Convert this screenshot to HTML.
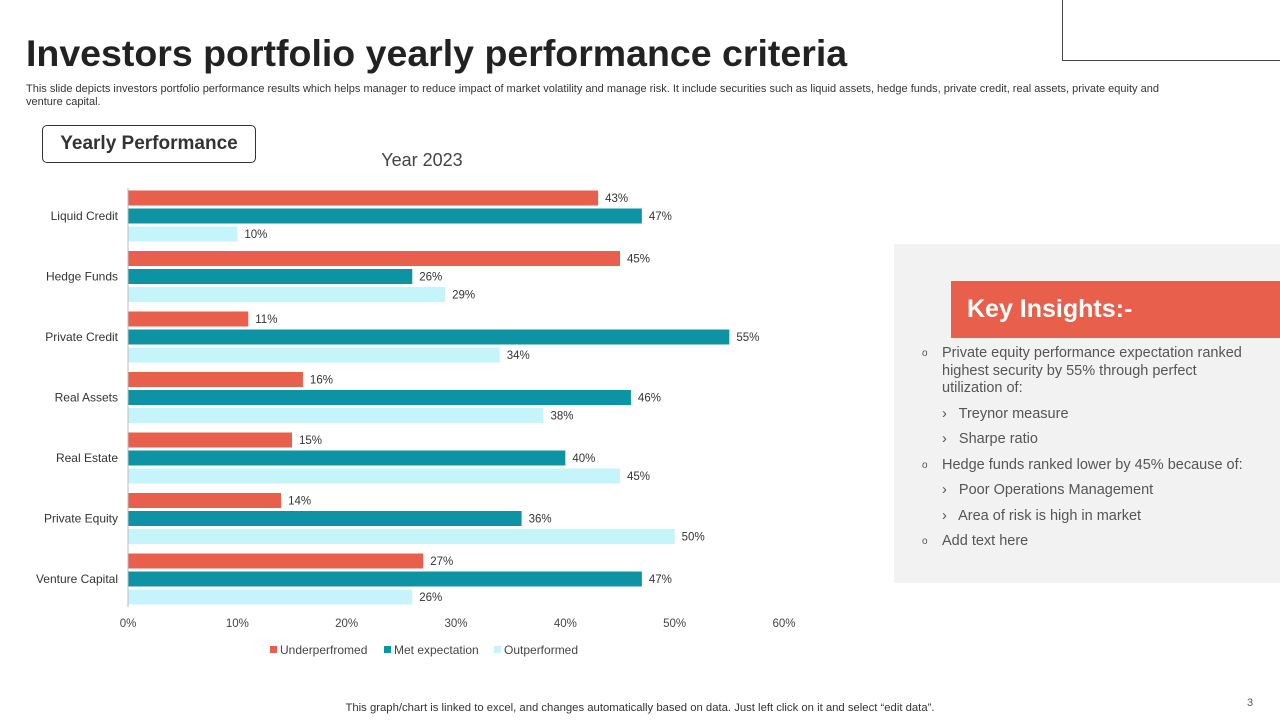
<!DOCTYPE html>
<html><head><meta charset="utf-8"><style>
body{margin:0;width:1280px;height:720px;background:#fff;position:relative;overflow:hidden;font-family:"Liberation Sans",sans-serif;}
.abs{position:absolute;}
</style></head><body>
<div class="abs" style="left:1062px;top:-1px;width:220px;height:62px;border:1px solid #444;box-sizing:border-box;border-top:none;border-right:none"></div>
<div class="abs" style="left:26px;top:32px;font-size:37.5px;font-weight:bold;color:#222">Investors portfolio yearly performance criteria</div>
<div class="abs" style="left:26px;top:83px;width:1165px;font-size:11px;line-height:13px;color:#333">This slide depicts investors portfolio performance results which helps manager to reduce impact of market volatility and manage risk. It include securities such as liquid assets, hedge funds, private credit, real assets, private equity and venture capital.</div>
<div class="abs" style="left:42px;top:125px;width:212px;height:36px;border:1px solid #333;border-radius:5px;font-size:19px;font-weight:bold;color:#333;text-align:center;line-height:36px">Yearly Performance</div>
<svg class="abs" style="left:0;top:0" width="1280" height="720" id="chart"></svg>
<div class="abs" style="left:894px;top:244px;width:386px;height:339px;background:#f2f2f2"></div>
<div class="abs" style="left:951px;top:281px;width:329px;height:57px;background:#e8604c;color:#fff;font-size:25px;font-weight:bold;line-height:57px;padding-left:16px;box-sizing:border-box">Key Insights:-</div>
<div class="abs" style="left:922px;top:345px;width:325px;font-size:14.5px;color:#555;line-height:17.5px">
<div style="position:relative;padding-left:20px"><span style="position:absolute;left:0;font-size:10px">o</span>Private equity performance expectation ranked highest security by 55% through perfect utilization of:</div>
<div style="padding-left:20px;margin-top:8px">›&nbsp;&nbsp; Treynor measure</div>
<div style="padding-left:20px;margin-top:8px">›&nbsp;&nbsp; Sharpe ratio</div>
<div style="position:relative;padding-left:20px;margin-top:8px"><span style="position:absolute;left:0;font-size:10px">o</span>Hedge funds ranked lower by 45% because of:</div>
<div style="padding-left:20px;margin-top:8px">›&nbsp;&nbsp; Poor Operations Management</div>
<div style="padding-left:20px;margin-top:8px">›&nbsp;&nbsp; Area of risk is high in market</div>
<div style="position:relative;padding-left:20px;margin-top:8px"><span style="position:absolute;left:0;font-size:10px">o</span>Add text here</div>
</div>
<div class="abs" style="left:0;width:1280px;top:702px;text-align:center;font-size:11.3px;color:#333">This graph/chart is linked to excel, and changes automatically based on data. Just left click on it and select “edit data”.</div>
<div class="abs" style="left:1247px;top:697px;font-size:11px;color:#555">3</div>
<script>
const categories=["Liquid Credit","Hedge Funds","Private Credit","Real Assets","Real Estate","Private Equity","Venture Capital"];
const underperformed=[43,45,11,16,15,14,27];
const metExpectation=[47,26,55,46,40,36,47];
const outperformed=[10,29,34,38,45,50,26];
const ticks=[0,10,20,30,40,50,60];
const seriesNames=["Underperfromed","Met expectation","Outperformed"];
const colors=["#e8604c","#0e93a4","#c5f4fa"];
const svg=document.getElementById('chart');const NS='http://www.w3.org/2000/svg';
const x=v=>128+v*656/60;
const gy=i=>198+i*60.5;
function mk(t,a,txt){const e=document.createElementNS(NS,t);for(const k in a)e.setAttribute(k,a[k]);if(txt!==undefined)e.textContent=txt;svg.appendChild(e);return e;}
let t=mk('text',{x:422,y:166,'font-size':18,fill:'#444','text-anchor':'middle','font-family':'Liberation Sans'},'Year 2023');


const series=[underperformed,metExpectation,outperformed];
categories.forEach((c,i)=>{
 let l=mk('text',{x:118,y:gy(i)+22,'font-size':12,fill:'#333','text-anchor':'end','font-family':'Liberation Sans'},c);
 
 
 series.forEach((s,j)=>{
  const cy=gy(i)+j*18;
  let r=mk('rect',{x:x(0),y:cy-7.5,width:x(s[i])-x(0),height:15,fill:colors[j]});
  
  
  let v=mk('text',{x:x(s[i])+7,y:cy+4,'font-size':11.5,fill:'#333','font-family':'Liberation Sans'},s[i]+'%');
  
  
 });
});
let ax=mk('line',{x1:128,y1:188,x2:128,y2:607,stroke:'#bbb'});


ticks.forEach(tv=>{
 let k=mk('text',{x:x(tv),y:627,'font-size':11.5,fill:'#444','text-anchor':'middle','font-family':'Liberation Sans'},tv+'%');
 
 
});
const lx=[270,384,494];
seriesNames.forEach((n,j)=>{
 let r=mk('rect',{x:lx[j],y:646,width:7,height:7,fill:colors[j]});
 
 
 let tt=mk('text',{x:lx[j]+10,y:654,'font-size':12,fill:'#444','font-family':'Liberation Sans'},n);
 
 
});
</script>
</body></html>
